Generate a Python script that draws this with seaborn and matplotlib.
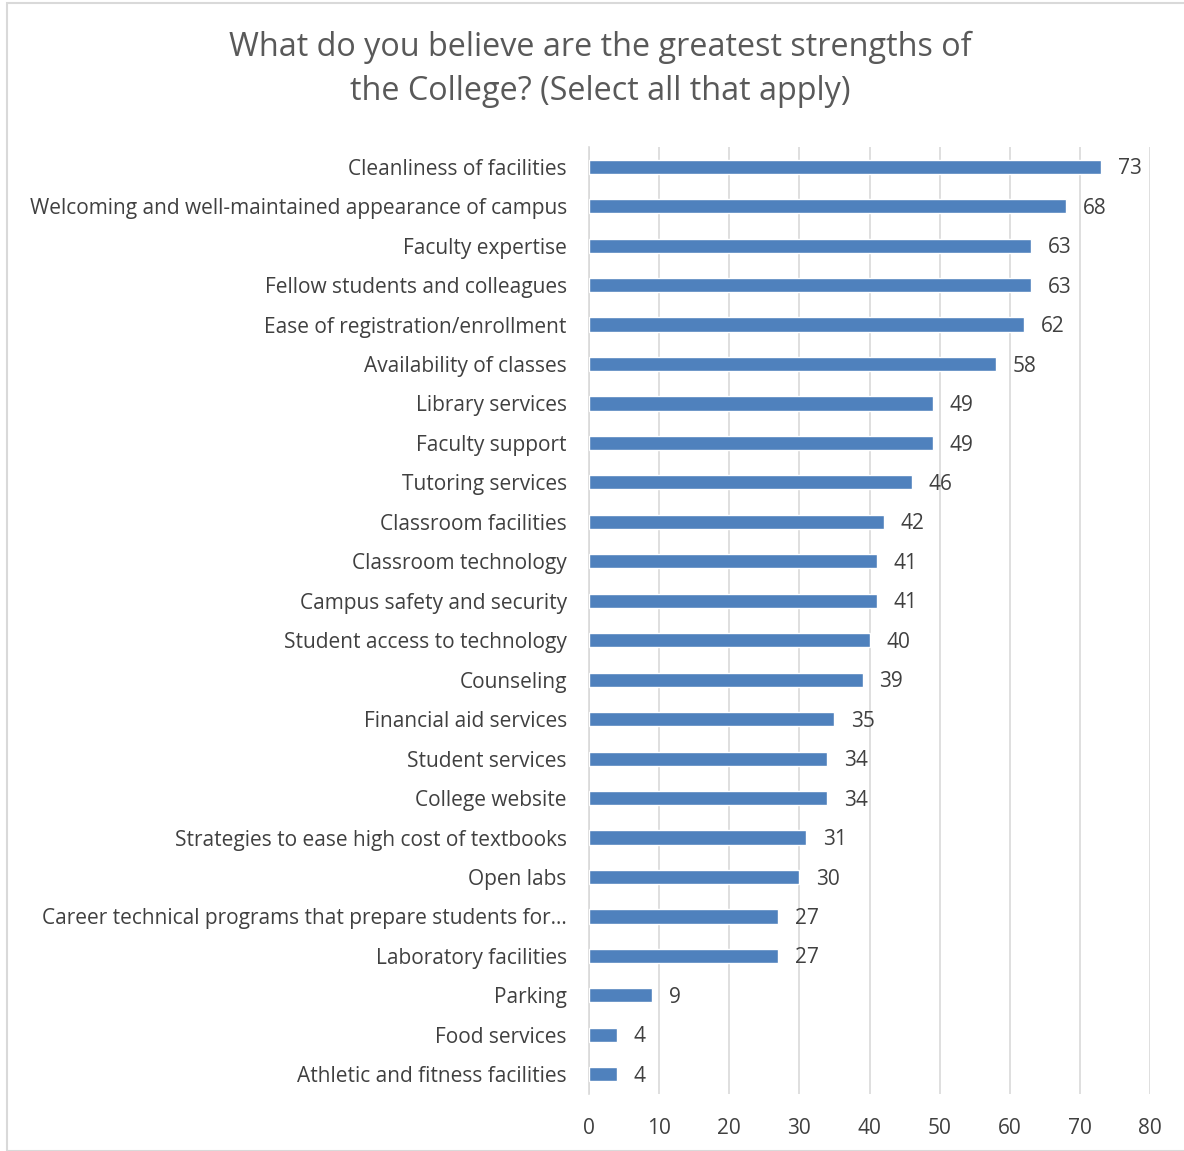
import matplotlib
matplotlib.use("Agg")
import matplotlib.pyplot as plt
import seaborn as sns
import pandas as pd
from matplotlib.patches import Rectangle

categories = [
    "Cleanliness of facilities",
    "Welcoming and well-maintained appearance of campus",
    "Faculty expertise",
    "Fellow students and colleagues",
    "Ease of registration/enrollment",
    "Availability of classes",
    "Library services",
    "Faculty support",
    "Tutoring services",
    "Classroom facilities",
    "Classroom technology",
    "Campus safety and security",
    "Student access to technology",
    "Counseling",
    "Financial aid services",
    "Student services",
    "College website",
    "Strategies to ease high cost of textbooks",
    "Open labs",
    "Career technical programs that prepare students for…",
    "Laboratory facilities",
    "Parking",
    "Food services",
    "Athletic and fitness facilities",
]
values = [73, 68, 63, 63, 62, 58, 49, 49, 46, 42, 41, 41, 40, 39, 35, 34, 34, 31, 30, 27, 27, 9, 4, 4]
x_ticks = [0, 10, 20, 30, 40, 50, 60, 70, 80]
title_lines = ["What do you believe are the greatest strengths of",
               "the College? (Select all that apply)"]

df = pd.DataFrame({"category": categories, "value": values})

sns.set_theme(style="white")
plt.rcParams["font.family"] = ["Open Sans", "DejaVu Sans"]

W, H = 1184, 1151
fig = plt.figure(figsize=(W / 100, H / 100), dpi=100)
ax = fig.add_axes([0.4975, 0.0495, 0.9713 - 0.4975, 0.8723 - 0.0495])

sns.barplot(data=df, y="category", x="value", orient="h", color="#4F81BD",
            saturation=1, width=0.36, ax=ax, zorder=3)

ax.set_xlim(0, 80)
ax.set_xticks(x_ticks)
ax.set_ylim(len(categories) - 0.5, -0.5)
ax.grid(axis="x", color="#D9D9D9", linewidth=1.2, zorder=0)
ax.grid(axis="y", visible=False)
for s in ["top", "right", "bottom"]:
    ax.spines[s].set_visible(False)
ax.spines["left"].set_color("#D9D9D9")
ax.spines["left"].set_linewidth(1.2)
ax.set_xlabel("")
ax.set_ylabel("")
ax.tick_params(axis="both", length=0, labelsize=15)
ax.tick_params(axis="y", pad=16)
ax.tick_params(axis="x", pad=17)
for lab in ax.get_yticklabels() + ax.get_xticklabels():
    lab.set_color("#404040")

for i, v in enumerate(values):
    ax.annotate(str(v), xy=(v, i), xytext=(12, -1.5), textcoords="offset points",
                va="center", ha="left", fontsize=15, color="#404040")

for line, ypx in zip(title_lines, [47, 92]):
    fig.text(600 / W, 1 - ypx / H, line, ha="center", va="center", fontsize=23.3,
             color="#595959")

fig.patches.append(Rectangle((7 / W, 0.0), 1.2, 1 - 3 / H, transform=fig.transFigure,
                             fill=False, edgecolor="#D9D9D9", linewidth=1.5))

fig.savefig("out.png", dpi=100, facecolor="white")
